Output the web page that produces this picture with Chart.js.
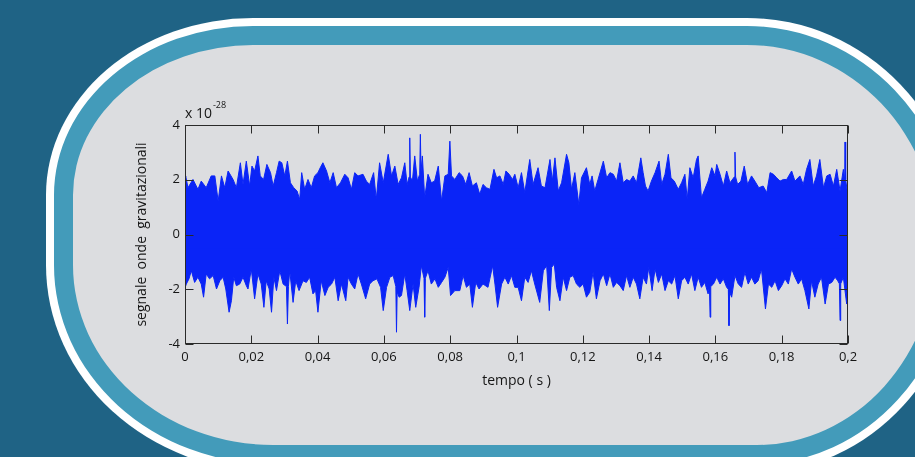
<!DOCTYPE html>
<html>
<head>
<meta charset="utf-8">
<script src="https://cdn.jsdelivr.net/npm/chart.js@4.4.0/dist/chart.umd.min.js"></script>
<style>
html, body { margin: 0; padding: 0; }
body { width: 915px; height: 457px; overflow: hidden; background: #1f6385; position: relative; }
#panel {
  position: absolute; left: 54px; top: 26px; width: 864px; height: 400px;
  border: 19px solid #439bba; background: #dcdde0;
  border-radius: 199px 209px 199px 219px / 169px 219px 219px 199px;
  box-shadow: 0 0 0 8px #ffffff;
}
#chart { position: absolute; left: 0; top: 0; }
</style>
</head>
<body>
<div id="panel"></div>
<canvas id="chart" width="915" height="457"></canvas>
<script>
// upper and lower edge of the noise band, [tempo (s), signal (x 1e-28)]
const upperEdge = [
  [0, 2.10], [0.0002, 2.14], [0.0009, 1.71], [0.0024, 2.01], [0.0039, 1.65], [0.0049, 1.95], [0.0064, 1.71],
  [0.0079, 2.14], [0.0090, 2.14], [0.0100, 1.22], [0.0110, 2.14], [0.0120, 1.71], [0.0130, 2.32], [0.0145, 2.01],
  [0.0155, 1.71], [0.0167, 2.62], [0.0175, 1.83], [0.0185, 2.68], [0.0195, 1.77], [0.0202, 2.50], [0.0210, 2.32],
  [0.0220, 2.87], [0.0227, 2.14], [0.0237, 2.01], [0.0247, 2.56], [0.0258, 2.26], [0.0266, 1.77], [0.0276, 2.26],
  [0.0284, 2.68], [0.0292, 2.62], [0.0301, 2.14], [0.0309, 2.68], [0.0318, 1.89], [0.0328, 1.71], [0.0338, 1.59],
  [0.0346, 1.28], [0.0352, 2.26], [0.0361, 1.65], [0.0371, 2.01], [0.0381, 1.71], [0.0391, 2.14], [0.0401, 2.26],
  [0.0408, 2.44], [0.0416, 2.62], [0.0427, 2.32], [0.0437, 1.89], [0.0447, 2.26], [0.0457, 1.71], [0.0469, 1.89],
  [0.0482, 2.20], [0.0492, 2.07], [0.0502, 1.65], [0.0512, 2.26], [0.0522, 2.14], [0.0537, 2.20], [0.0547, 1.95],
  [0.0557, 1.83], [0.0569, 2.26], [0.0577, 1.28], [0.0587, 2.62], [0.0598, 1.89], [0.0613, 2.93], [0.0623, 2.14],
  [0.0633, 2.50], [0.0643, 1.83], [0.0653, 2.07], [0.0663, 2.62], [0.0670, 1.83], [0.0676, 2.10], [0.0678, 3.53],
  [0.0680, 2.10], [0.0686, 1.95], [0.0693, 2.87], [0.0701, 1.95], [0.0708, 2.20], [0.0710, 3.66], [0.0712, 2.30],
  [0.0716, 2.87], [0.0723, 1.34], [0.0733, 2.20], [0.0743, 1.89],
  [0.0753, 1.95], [0.0764, 2.50], [0.0774, 1.22], [0.0784, 2.14], [0.0794, 2.20], [0.0799, 3.41], [0.0804, 2.14],
  [0.0814, 2.01], [0.0827, 2.26], [0.0837, 2.14], [0.0847, 1.83], [0.0857, 2.26], [0.0867, 1.77], [0.0879, 1.89],
  [0.0889, 1.47], [0.0899, 1.83], [0.0909, 1.71], [0.0920, 1.65], [0.0932, 2.38], [0.0940, 2.07], [0.0950, 2.14],
  [0.0960, 1.83], [0.0968, 2.32], [0.0978, 2.20], [0.0988, 2.01],
  [0.0995, 2.20], [0.1005, 1.71], [0.1015, 2.26], [0.1025, 1.53], [0.1040, 2.74], [0.1050, 1.83], [0.1065, 2.44],
  [0.1075, 1.77], [0.1086, 1.71], [0.1101, 2.74], [0.1108, 1.95], [0.1116, 2.80], [0.1126, 1.59], [0.1136, 1.89],
  [0.1151, 2.93], [0.1158, 2.62], [0.1166, 1.65], [0.1176, 2.26], [0.1188, 1.10], [0.1196, 2.07], [0.1211, 2.44],
  [0.1221, 1.83], [0.1228, 2.14], [0.1236, 1.59], [0.1246, 2.01], [0.1262, 2.68], [0.1272, 2.07], [0.1282, 2.26],
  [0.1292, 2.20], [0.1302, 1.95], [0.1312, 2.62], [0.1322, 1.89], [0.1332, 2.01], [0.1342, 1.95], [0.1352, 2.14],
  [0.1362, 1.89], [0.1375, 2.80], [0.1382, 2.26], [0.1389, 1.77], [0.1397, 1.59], [0.1407, 1.95], [0.1418, 2.26],
  [0.1430, 2.68], [0.1438, 1.83], [0.1448, 2.20], [0.1458, 2.93], [0.1466, 2.07], [0.1476, 1.95], [0.1488, 1.65],
  [0.1498, 1.89], [0.1508, 2.20], [0.1515, 1.28], [0.1523, 2.44], [0.1533, 2.07], [0.1543, 2.74], [0.1548, 2.87],
  [0.1558, 1.34], [0.1568, 1.65], [0.1578, 1.95], [0.1589, 2.44], [0.1599, 2.14], [0.1604, 2.56], [0.1614, 2.20],
  [0.1624, 1.77], [0.1634, 2.32], [0.1644, 1.89], [0.1657, 2.10], [0.1659, 3.01], [0.1661, 2.10], [0.1667, 1.83],
  [0.1677, 1.95], [0.1687, 2.50],
  [0.1697, 1.83], [0.1709, 2.14], [0.1719, 1.95], [0.1731, 1.71], [0.1744, 1.77], [0.1755, 1.53], [0.1765, 2.26],
  [0.1775, 2.20], [0.1785, 2.07], [0.1795, 1.95], [0.1805, 2.01], [0.1815, 2.01], [0.1830, 2.32], [0.1840, 1.95],
  [0.1855, 2.14], [0.1865, 1.83], [0.1875, 2.38], [0.1885, 2.74], [0.1895, 1.77], [0.1905, 2.14], [0.1915, 2.74],
  [0.1926, 1.71], [0.1936, 2.14], [0.1946, 2.20], [0.1956, 1.77], [0.1966, 2.38], [0.1976, 1.59], [0.1986, 2.38],
  [0.1990, 2.00], [0.1991, 3.38], [0.1993, 2.00], [0.1997, 1.65], [0.2, 1.60]
];

const lowerEdge = [
  [0, -1.95], [0.0004, -1.81], [0.0012, -1.62], [0.0019, -1.32], [0.0029, -1.75], [0.0039, -1.56], [0.0049, -1.81],
  [0.0056, -2.29], [0.0064, -1.44], [0.0074, -1.62], [0.0085, -1.50], [0.0095, -1.99], [0.0105, -1.69], [0.0115, -1.56],
  [0.0123, -1.99], [0.0133, -2.84], [0.0140, -2.42], [0.0147, -1.56], [0.0155, -1.87], [0.0165, -1.81], [0.0175, -1.56],
  [0.0185, -1.87], [0.0190, -1.99], [0.0200, -1.26], [0.0210, -2.35], [0.0220, -1.44], [0.0230, -1.81], [0.0238, -2.66],
  [0.0245, -1.69], [0.0254, -1.99], [0.0261, -2.84], [0.0268, -1.56], [0.0276, -2.05], [0.0286, -1.32], [0.0296, -1.81],
  [0.0306, -1.90], [0.0309, -3.27], [0.0312, -1.90], [0.0316, -1.32], [0.0326, -2.48], [0.0334, -1.69], [0.0344, -2.05],
  [0.0356, -1.69], [0.0366, -1.75],
  [0.0376, -1.56], [0.0386, -2.17], [0.0394, -2.05], [0.0401, -2.84], [0.0411, -1.69], [0.0422, -2.23], [0.0432, -1.93],
  [0.0442, -1.81], [0.0452, -1.56], [0.0462, -2.42], [0.0472, -1.81], [0.0485, -2.42], [0.0492, -1.56], [0.0502, -1.81],
  [0.0512, -1.99], [0.0522, -1.44], [0.0532, -1.81], [0.0545, -2.35], [0.0557, -1.81], [0.0567, -1.69], [0.0579, -1.62],
  [0.0590, -1.93], [0.0598, -2.78], [0.0608, -1.93], [0.0618, -1.56], [0.0628, -1.50], [0.0636, -1.90], [0.0638, -3.57],
  [0.0640, -2.10], [0.0646, -2.29],
  [0.0653, -2.23], [0.0663, -1.44], [0.0670, -2.05], [0.0678, -2.78], [0.0688, -1.81], [0.0696, -2.66], [0.0706, -1.93],
  [0.0713, -1.14], [0.0721, -1.60], [0.0723, -3.02], [0.0725, -1.60], [0.0733, -1.32], [0.0743, -1.81], [0.0754, -1.62],
  [0.0764, -1.93], [0.0774, -1.75],
  [0.0784, -1.56], [0.0794, -1.20], [0.0801, -2.23], [0.0814, -2.05], [0.0829, -2.05], [0.0839, -1.50], [0.0849, -1.93],
  [0.0859, -1.81], [0.0867, -2.66], [0.0877, -1.75], [0.0887, -1.99], [0.0899, -1.81], [0.0914, -1.93], [0.0928, -1.14],
  [0.0935, -1.81], [0.0943, -2.66], [0.0955, -1.81], [0.0965, -1.56], [0.0975, -1.81], [0.0985, -1.50], [0.0995, -1.93],
  [0.1005, -1.93], [0.1015, -2.42], [0.1025, -1.56], [0.1035, -1.75], [0.1045, -1.32], [0.1055, -1.81], [0.1070, -2.48],
  [0.1081, -1.32], [0.1091, -1.14], [0.1099, -2.78], [0.1106, -1.20], [0.1114, -1.08], [0.1121, -1.93], [0.1131, -2.42],
  [0.1141, -1.56], [0.1151, -2.05], [0.1161, -1.56], [0.1171, -1.50], [0.1181, -1.81], [0.1191, -1.93], [0.1201, -1.81],
  [0.1211, -2.29], [0.1221, -2.11], [0.1231, -1.38], [0.1241, -2.35], [0.1252, -1.69], [0.1262, -1.44], [0.1272, -1.87],
  [0.1282, -1.44], [0.1292, -1.93], [0.1302, -1.75], [0.1312, -1.87], [0.1322, -2.05], [0.1332, -1.50], [0.1342, -1.93],
  [0.1352, -1.56], [0.1362, -1.81], [0.1372, -2.35], [0.1382, -1.56], [0.1392, -1.81], [0.1399, -1.20], [0.1409, -2.05],
  [0.1418, -1.26], [0.1428, -1.75], [0.1438, -1.44], [0.1448, -2.05], [0.1458, -1.69], [0.1468, -1.81], [0.1478, -1.50],
  [0.1488, -2.35], [0.1498, -1.69], [0.1508, -1.56], [0.1518, -1.81], [0.1528, -1.44], [0.1538, -2.05], [0.1548, -1.56],
  [0.1558, -1.93], [0.1568, -1.75], [0.1578, -2.17], [0.1582, -1.90], [0.1584, -3.02], [0.1586, -1.90], [0.1594, -1.81],
  [0.1604, -1.56], [0.1614, -1.81],
  [0.1624, -1.62], [0.1634, -1.93], [0.1639, -2.00], [0.1641, -3.33], [0.1643, -2.10], [0.1649, -2.29], [0.1659, -1.50],
  [0.1669, -1.81], [0.1679, -1.93],
  [0.1689, -1.38], [0.1699, -1.81], [0.1709, -1.56], [0.1719, -1.81], [0.1729, -1.69], [0.1739, -1.26], [0.1751, -2.72],
  [0.1760, -1.81], [0.1770, -1.93], [0.1780, -1.69], [0.1790, -2.05], [0.1800, -1.87], [0.1810, -1.62], [0.1820, -1.81],
  [0.1830, -1.26], [0.1840, -1.56], [0.1850, -1.81], [0.1860, -1.62], [0.1870, -2.05], [0.1882, -2.72], [0.1890, -1.69],
  [0.1900, -2.29], [0.1910, -1.81], [0.1920, -1.56], [0.1931, -2.54], [0.1941, -1.81], [0.1951, -1.75], [0.1961, -1.56],
  [0.1969, -1.69], [0.1974, -1.80], [0.1976, -3.14], [0.1978, -1.80], [0.1986, -1.56], [0.1996, -2.54], [0.1999, -1.80],
  [0.2, -2.90]
];

const xTicks = [0, 0.02, 0.04, 0.06, 0.08, 0.1, 0.12, 0.14, 0.16, 0.18, 0.2];
const xTickLabels = ['0', '0,02', '0,04', '0,06', '0,08', '0,1', '0,12', '0,14', '0,16', '0,18', '0,2'];
const yTicks = [-4, -2, 0, 2, 4];
const yTickLabels = ['-4', '-2', '0', '2', '4'];

const BLUE = '#0a24f7';
const INK = '#161616';
const FONT = "'Open Sans', sans-serif";

// box frame with inward ticks on all four sides + the exponent label
const frameTicks = {
  id: 'frameTicks',
  afterDatasetsDraw(chart) {
    const { ctx, chartArea: a, scales: { x, y } } = chart;
    const L = Math.round(a.left) + 0.5, R = Math.round(a.right) - 0.5;
    const T = Math.round(a.top) + 0.5, B = Math.round(a.bottom) - 0.5;
    ctx.save();
    ctx.strokeStyle = '#2a2a2a';
    ctx.lineWidth = 1;
    ctx.beginPath();
    xTicks.forEach(v => {
      const px = Math.round(x.getPixelForValue(v)) + 0.5;
      ctx.moveTo(px, B); ctx.lineTo(px, B - 8);
      ctx.moveTo(px, T); ctx.lineTo(px, T + 8);
    });
    yTicks.forEach(v => {
      const py = Math.round(y.getPixelForValue(v)) + 0.5;
      ctx.moveTo(L, py); ctx.lineTo(L + 8, py);
      ctx.moveTo(R, py); ctx.lineTo(R - 8, py);
    });
    ctx.stroke();
    ctx.strokeRect(L, T, R - L, B - T);

    ctx.fillStyle = INK;
    ctx.textBaseline = 'alphabetic';
    ctx.textAlign = 'left';
    ctx.font = '14px ' + FONT;
    ctx.fillText('x 10', a.left, a.top - 7);
    const w = ctx.measureText('x 10').width;
    ctx.font = '9px ' + FONT;
    ctx.fillText('-28', a.left + w + 1, a.top - 17);
    ctx.restore();
  }
};

const bandStyle = {
  borderColor: BLUE,
  backgroundColor: BLUE,
  borderWidth: 1,
  pointRadius: 0,
  tension: 0
};

new Chart(document.getElementById('chart'), {
  type: 'line',
  data: {
    datasets: [
      Object.assign({ data: upperEdge.map(p => ({ x: p[0], y: p[1] })), fill: { value: -0.5 } }, bandStyle),
      Object.assign({ data: lowerEdge.map(p => ({ x: p[0], y: p[1] })), fill: { value: 0.5 } }, bandStyle)
    ]
  },
  options: {
    responsive: false,
    animation: false,
    devicePixelRatio: 1,
    layout: { padding: { left: 134, right: 67, top: 125, bottom: 68 } },
    plugins: { legend: { display: false }, tooltip: { enabled: false } },
    scales: {
      x: {
        type: 'linear', min: 0, max: 0.2,
        afterBuildTicks: s => { s.ticks = xTicks.map(v => ({ value: v })); },
        afterFit: s => { s.height = 45; },
        grid: { display: false, drawTicks: false },
        border: { display: false },
        ticks: {
          callback: (v, i) => xTickLabels[i],
          autoSkip: false, maxRotation: 0, padding: 5,
          color: INK, font: { family: FONT, size: 13 }
        },
        title: {
          display: true, text: 'tempo ( s )', padding: 0,
          color: INK, font: { family: FONT, size: 14 }
        }
      },
      y: {
        type: 'linear', min: -4, max: 4,
        afterBuildTicks: s => { s.ticks = yTicks.map(v => ({ value: v })); },
        afterFit: s => { s.width = 51; },
        grid: { display: false, drawTicks: false },
        border: { display: false },
        ticks: {
          callback: (v, i) => yTickLabels[i],
          padding: 5,
          color: INK, font: { family: FONT, size: 13 }
        },
        title: {
          display: true, text: 'segnale  onde  gravitazionali', padding: 0,
          color: INK, font: { family: FONT, size: 14 }
        }
      }
    }
  },
  plugins: [frameTicks]
});
</script>
</body>
</html>
